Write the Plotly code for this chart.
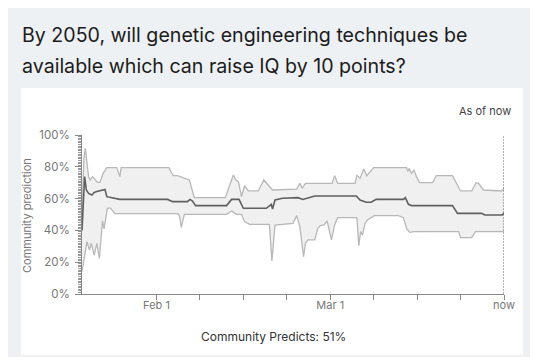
import pandas as pd
import plotly.graph_objects as go

start_date = "2023-01-20"
end_date = "2023-03-29"

# day offsets from start_date and values (%)
upper_days = [0, 0.3, 0.53, 1.06, 1.3, 1.7, 1.96, 2.5, 2.9, 3.4, 4.0, 5.6, 6.1, 6.3, 14.0, 14.7, 15.4, 17.3,
              18.1, 23.1, 23.9, 24.4, 24.8, 25.2, 25.7, 26.2, 26.8, 28.4, 29.3, 30.0, 30.7, 34.6, 35.1, 35.5,
              36.0, 40.3, 40.7, 41.2, 44.0, 44.3, 44.8, 45.4, 45.9, 47.0, 52.3, 52.5, 52.7, 53.1, 53.5, 53.9,
              54.4, 56.5, 57.1, 59.7, 61.0, 62.8, 63.5, 63.9, 64.7, 67.6, 68.0]
upper_vals = [48, 85, 91.6, 73.8, 71.7, 73.8, 72.7, 70.2, 70.2, 75.9, 79.5, 79.5, 73.8, 79.5, 79.5, 74.4, 74.4, 71.7,
              60.6, 60.6, 69.6, 74.8, 71.7, 70.6, 61.2, 68.1, 64.8, 64.8, 71.7, 68.6, 65.4, 66.0, 69.6, 66.5,
              69.6, 69.6, 74.4, 69.6, 69.6, 74.8, 72.7, 78.6, 74.4, 79.5, 79.5, 77.1, 79.0, 75.9, 78.0, 73.8,
              70.0, 70.0, 74.4, 74.4, 64.8, 64.8, 70.0, 69.6, 65.4, 64.8, 66.5]

median_days = [0, 0.42, 0.7, 1.06, 1.6, 1.96, 2.4, 2.9, 3.7, 4.0, 4.5, 5.6, 6.1, 13.8, 14.6, 17.0, 17.4, 17.8,
               18.3, 23.3, 24.1, 25.3, 26.0, 29.7, 30.5, 30.7, 31.1, 32.3, 34.8, 35.6, 36.4, 37.5, 44.2, 44.8,
               45.8, 46.6, 47.4, 51.8, 52.1, 52.6, 53.1, 59.7, 60.5, 64.4, 64.9, 67.7, 68.0]
median_vals = [40, 73.8, 65.4, 63.3, 62.3, 63.9, 64.4, 64.8, 65.8, 61.2, 60.8, 60.2, 59.5, 59.5, 58.1, 58.1, 59.5, 58.5,
               55.6, 55.6, 59.5, 59.5, 53.9, 53.9, 56.4, 53.5, 59.1, 60.2, 60.6, 59.5, 60.2, 61.6, 61.6, 59.1,
               57.7, 57.7, 59.5, 59.5, 60.6, 56.4, 55.6, 55.6, 50.7, 50.7, 49.7, 49.7, 51.0]

lower_days = [0, 0.8, 1.2, 1.5, 1.96, 2.4, 2.8, 3.3, 3.55, 4.1, 4.6, 5.3, 15.4, 15.7, 16.0, 16.5, 23.3, 24.1,
              24.9, 25.7, 26.2, 27.0, 30.2, 30.6, 31.1, 34.0, 34.6, 35.1, 35.7, 36.0, 36.4, 37.5, 38.0, 38.4,
              39.0, 39.5, 40.2, 40.7, 41.2, 44.3, 44.6, 44.9, 45.2, 45.6, 46.0, 47.1, 51.0, 51.8, 52.3, 52.8,
              53.5, 60.7, 61.0, 62.8, 63.4, 68.0]
lower_vals = [14, 32.9, 27.7, 31.9, 24.5, 31.9, 22.4, 46, 41, 54, 54, 50.5, 50.5, 49.3, 41.9, 50.1, 50.1, 52.2,
              50.1, 50.1, 45.5, 43.8, 43.8, 20.8, 43.4, 44.4, 49.3, 42.3, 23.5, 31.9, 34.0, 34.0, 41.3, 43.0,
              43.4, 45.9, 34.0, 43.4, 48.0, 48.0, 30.4, 39.2, 37.1, 44.4, 46.5, 49.3, 49.3, 48.0, 41.3, 38.8,
              39.2, 39.2, 35.4, 35.4, 39.2, 39.2]

tick_dates = ["2023-02-01", "2023-02-08", "2023-02-15", "2023-02-22", "2023-03-01",
              "2023-03-08", "2023-03-15", "2023-03-22", "2023-03-29"]
tick_labels = ["Feb 1", "", "", "", "Mar 1", "", "", "", "now"]
y_ticks = [0, 20, 40, 60, 80, 100]
y_labels = ["0%", "20%", "40%", "60%", "80%", "100%"]

title_lines = ["By 2050, will genetic engineering techniques be",
               "available which can raise IQ by 10 points?"]
current_value = "51%"

base = pd.Timestamp(start_date)
def to_dates(days):
    return [base + pd.Timedelta(days=d) for d in days]

ux = to_dates(upper_days)
lx = to_dates(lower_days)
mx = to_dates(median_days)

FONT = "Inter"
fig = go.Figure()

# band
fig.add_trace(go.Scatter(
    x=ux + lx[::-1], y=upper_vals + lower_vals[::-1],
    fill="toself", fillcolor="#f0f0f0", line=dict(width=0), mode="lines",
    hoverinfo="skip", showlegend=False))
fig.add_trace(go.Scatter(x=ux, y=upper_vals, mode="lines",
                         line=dict(color="#b8b8b8", width=1.3), showlegend=False))
fig.add_trace(go.Scatter(x=lx, y=lower_vals, mode="lines",
                         line=dict(color="#b8b8b8", width=1.3), showlegend=False))
fig.add_trace(go.Scatter(x=mx, y=median_vals, mode="lines",
                         line=dict(color="#5f5f5f", width=1.6), showlegend=False))

W, H = 538, 357
L, R, T, B = 74, 496, 127, 286
def px(x):
    return (x - L) / (R - L)
def py(y):
    return (B - y) / (B - T)

# card
fig.add_shape(type="rect", xref="paper", yref="paper",
              x0=px(13), x1=px(515), y0=py(347), y1=py(80),
              fillcolor="white", line=dict(width=0), layer="below")
# now line
fig.add_shape(type="line", xref="x", yref="y", x0=end_date, x1=end_date, y0=0, y1=100,
              line=dict(color="#666666", width=1, dash="2px,1px"))

ann = []
ann.append(dict(text=title_lines[0], x=px(12), y=py(27), xref="paper", yref="paper",
                xanchor="left", yanchor="middle", showarrow=False,
                font=dict(family=FONT, size=19.6, color="#1b1b1b")))
ann.append(dict(text=title_lines[1], x=px(12), y=py(58), xref="paper", yref="paper",
                xanchor="left", yanchor="middle", showarrow=False,
                font=dict(family=FONT, size=19.6, color="#1b1b1b")))
ann.append(dict(text="As of now", x=px(505), y=py(103), xref="paper", yref="paper",
                xanchor="right", yanchor="middle", showarrow=False,
                font=dict(family=FONT, size=11, color="#444444")))
ann.append(dict(text="Community Predicts: " + current_value, x=px(265), y=py(328),
                xref="paper", yref="paper", xanchor="center", yanchor="middle", showarrow=False,
                font=dict(family=FONT, size=12, color="#333333")))
ann.append(dict(text="Community prediction", x=px(19), y=py(207), xref="paper", yref="paper",
                xanchor="center", yanchor="middle", showarrow=False, textangle=-90,
                font=dict(family=FONT, size=11, color="#777777")))

fig.update_layout(
    width=W, height=H,
    margin=dict(l=L, r=W - R, t=T, b=H - B, pad=0),
    paper_bgcolor="#eef1f3", plot_bgcolor="white",
    annotations=ann, showlegend=False,
    xaxis=dict(range=[start_date, end_date], type="date",
               tickvals=tick_dates, ticktext=tick_labels,
               ticks="outside", ticklen=5, tickcolor="#888888",
               ticklabelstandoff=-4,
               showline=True, linecolor="#888888", linewidth=1,
               showgrid=False, zeroline=False,
               tickfont=dict(family=FONT, size=11, color="#777777")),
    yaxis=dict(range=[0, 100], tickvals=y_ticks, ticktext=y_labels,
               ticks="outside", ticklen=6, tickcolor="#888888",
               ticklabelstandoff=3,
               minor=dict(dtick=1, ticks="outside", ticklen=3, tickcolor="#999999", showgrid=False),
               showline=True, linecolor="#888888", linewidth=1,
               showgrid=False, zeroline=False,
               tickfont=dict(family=FONT, size=11.5, color="#777777")),
)

fig.write_html("out.html")
